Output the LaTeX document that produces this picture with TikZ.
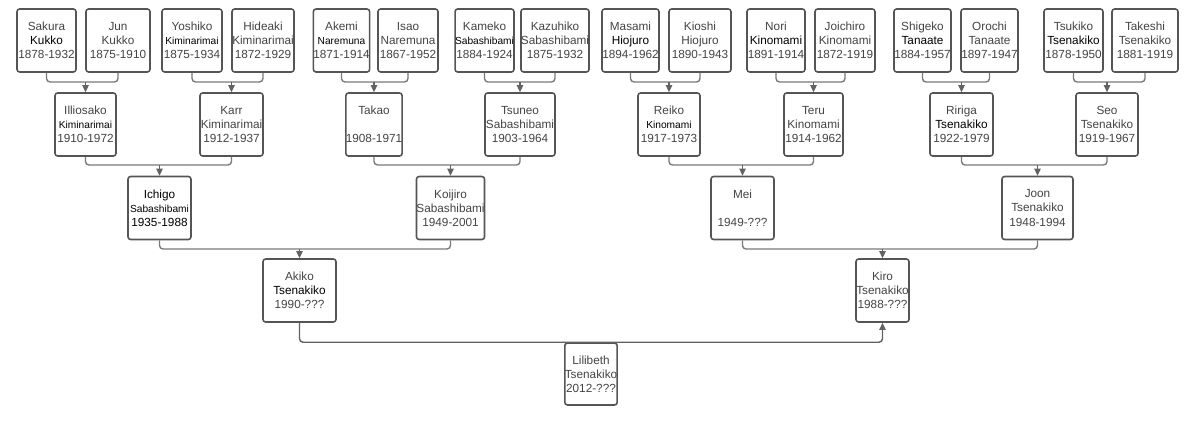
\documentclass[tikz,border=0pt]{standalone}
\usepackage{fontspec}
\setmainfont{Liberation Sans}
\usetikzlibrary{arrows.meta}
\definecolor{txtgray}{HTML}{444444}
\definecolor{boxgray}{HTML}{555555}
\definecolor{linegray}{HTML}{7A7A7A}
\newcommand\bkname[1]{\textcolor{black}{#1}}
\newcommand\smname[1]{{\fontsize{5.8}{8}\selectfont\color{black}#1}}

\begin{document}
\begin{tikzpicture}[x=0.02cm,y=-0.02cm,>={Triangle[length=4pt,width=3.6pt]}]
  \tikzset{person/.style={draw=boxgray,line width=0.9pt,fill=white,rounded corners=1.5pt,
      minimum height=1.26cm,inner sep=0pt,align=center,text=txtgray,
      font=\fontsize{6.7}{8}\selectfont},
    bw/.style={minimum width=#1*0.02cm},
    link/.style={draw=linegray,line width=0.8pt,rounded corners=2pt},
    down/.style={link,->,draw=linegray,color=linegray!80!black}}
  \useasboundingbox (0,0) rectangle (1200,420);

  \node[person,bw=59] (sakura)   at (46.5,40.5)  {Sakura\\\bkname{Kukko}\\1878-1932};
  \node[person,bw=64] (jun)      at (118,40.5)   {Jun\\Kukko\\1875-1910};
  \node[person,bw=60] (yoshiko)  at (192,40.5)   {Yoshiko\\\smname{Kiminarimai}\\1875-1934};
  \node[person,bw=62] (hideaki)  at (263,40.5)   {Hideaki\\Kiminarimai\\1872-1929};
  \node[person,bw=53] (akemi)    at (341.5,40.5) {Akemi\\\smname{Naremuna}\\1871-1914};
  \node[person,bw=60] (isao)     at (408,40.5)   {Isao\\Naremuna\\1867-1952};
  \node[person,bw=57] (kameko)   at (484.5,40.5) {Kameko\\\smname{Sabashibami}\\1884-1924};
  \node[person,bw=64] (kazuhiko) at (555,40.5)   {Kazuhiko\\Sabashibami\\1875-1932};
  \node[person,bw=57] (masami)   at (630.5,40.5) {Masami\\\bkname{Hiojuro}\\1894-1962};
  \node[person,bw=62] (kioshi)   at (700,40.5)   {Kioshi\\Hiojuro\\1890-1943};
  \node[person,bw=58] (nori)     at (776,40.5)   {Nori\\\bkname{Kinomami}\\1891-1914};
  \node[person,bw=60] (joichiro) at (845,40.5)   {Joichiro\\Kinomami\\1872-1919};
  \node[person,bw=57] (shigeko)  at (922.5,40.5) {Shigeko\\\bkname{Tanaate}\\1884-1957};
  \node[person,bw=57] (orochi)   at (989.5,40.5) {Orochi\\Tanaate\\1897-1947};
  \node[person,bw=59] (tsukiko)  at (1073.5,40.5) {Tsukiko\\\bkname{Tsenakiko}\\1878-1950};
  \node[person,bw=66] (takeshi)  at (1145,40.5)  {Takeshi\\Tsenakiko\\1881-1919};

  \node[person,bw=61] (illio)  at (85.5,124.5)  {Illiosako\\\smname{Kiminarimai}\\1910-1972};
  \node[person,bw=63] (karr)   at (231.5,124.5) {Karr\\Kiminarimai\\1912-1937};
  \node[person,bw=52] (takao)  at (374,124.5)   {Takao\\[8pt]1908-1971};
  \node[person,bw=70] (tsuneo) at (520,124.5)   {Tsuneo\\Sabashibami\\1903-1964};
  \node[person,bw=62] (reiko)  at (669,124.5)   {Reiko\\\smname{Kinomami}\\1917-1973};
  \node[person,bw=59] (teru)   at (813.5,124.5) {Teru\\Kinomami\\1914-1962};
  \node[person,bw=63] (ririga) at (961.5,124.5) {Ririga\\\bkname{Tsenakiko}\\1922-1979};
  \node[person,bw=62] (seo)    at (1107,124.5)  {Seo\\Tsenakiko\\1919-1967};

  \node[person,bw=63] (ichigo)  at (159.5,208)  {\bkname{Ichigo}\\\smname{Sabashibami}\\\bkname{1935-1988}};
  \node[person,bw=63] (koijiro) at (450.5,208)  {Koijiro\\Sabashibami\\1949-2001};
  \node[person,bw=63] (mei)     at (742.5,208)  {Mei\\[8pt]1949-???};
  \node[person,bw=71] (joon)    at (1037.5,208) {Joon\\Tsenakiko\\1948-1994};

  \node[person,bw=73] (akiko) at (299.5,290.5) {Akiko\\\bkname{Tsenakiko}\\1990-???};
  \node[person,bw=53] (kiro)  at (882.5,290.5) {Kiro\\Tsenakiko\\1988-???};

  \node[person,bw=52,minimum height=1.24cm] (lili) at (591,374) {Lilibeth\\Tsenakiko\\2012-???};

  \coordinate (j1) at (illio.north  |- 0,82);
  \coordinate (j2) at (karr.north   |- 0,82);
  \coordinate (j3) at (takao.north  |- 0,82);
  \coordinate (j4) at (tsuneo.north |- 0,82);
  \coordinate (j5) at (reiko.north  |- 0,82);
  \coordinate (j6) at (teru.north   |- 0,82);
  \coordinate (j7) at (ririga.north |- 0,82);
  \coordinate (j8) at (seo.north    |- 0,82);
  \coordinate (k1) at (ichigo.north  |- 0,165);
  \coordinate (k2) at (koijiro.north |- 0,165);
  \coordinate (k3) at (mei.north     |- 0,165);
  \coordinate (k4) at (joon.north    |- 0,165);
  \coordinate (m1) at (akiko.north |- 0,249);
  \coordinate (m2) at (kiro.north  |- 0,249);

  \path[link] (sakura.south)  |- (j1) -| (jun.south);
  \path[link] (yoshiko.south) |- (j2) -| (hideaki.south);
  \path[link] (akemi.south)   |- (j3) -| (isao.south);
  \path[link] (kameko.south)  |- (j4) -| (kazuhiko.south);
  \path[link] (masami.south)  |- (j5) -| (kioshi.south);
  \path[link] (nori.south)    |- (j6) -| (joichiro.south);
  \path[link] (shigeko.south) |- (j7) -| (orochi.south);
  \path[link] (tsukiko.south) |- (j8) -| (takeshi.south);
  \path[link] (illio.south)   |- (k1) -| (karr.south);
  \path[link] (takao.south)   |- (k2) -| (tsuneo.south);
  \path[link] (reiko.south)   |- (k3) -| (teru.south);
  \path[link] (ririga.south)  |- (k4) -| (seo.south);
  \path[link] (ichigo.south)  |- (m1) -| (koijiro.south);
  \path[link] (mei.south)     |- (m2) -| (joon.south);

  \path[down] (j1) -- (illio.north);
  \path[down] (j2) -- (karr.north);
  \path[down] (j3) -- (takao.north);
  \path[down] (j4) -- (tsuneo.north);
  \path[down] (j5) -- (reiko.north);
  \path[down] (j6) -- (teru.north);
  \path[down] (j7) -- (ririga.north);
  \path[down] (j8) -- (seo.north);
  \path[down] (k1) -- (ichigo.north);
  \path[down] (k2) -- (koijiro.north);
  \path[down] (k3) -- (mei.north);
  \path[down] (k4) -- (joon.north);
  \path[down] (m1) -- (akiko.north);
  \path[down] (m2) -- (kiro.north);

  \path[down] (akiko.south) |- (lili.north) -| (kiro.south);
\end{tikzpicture}
\end{document}
